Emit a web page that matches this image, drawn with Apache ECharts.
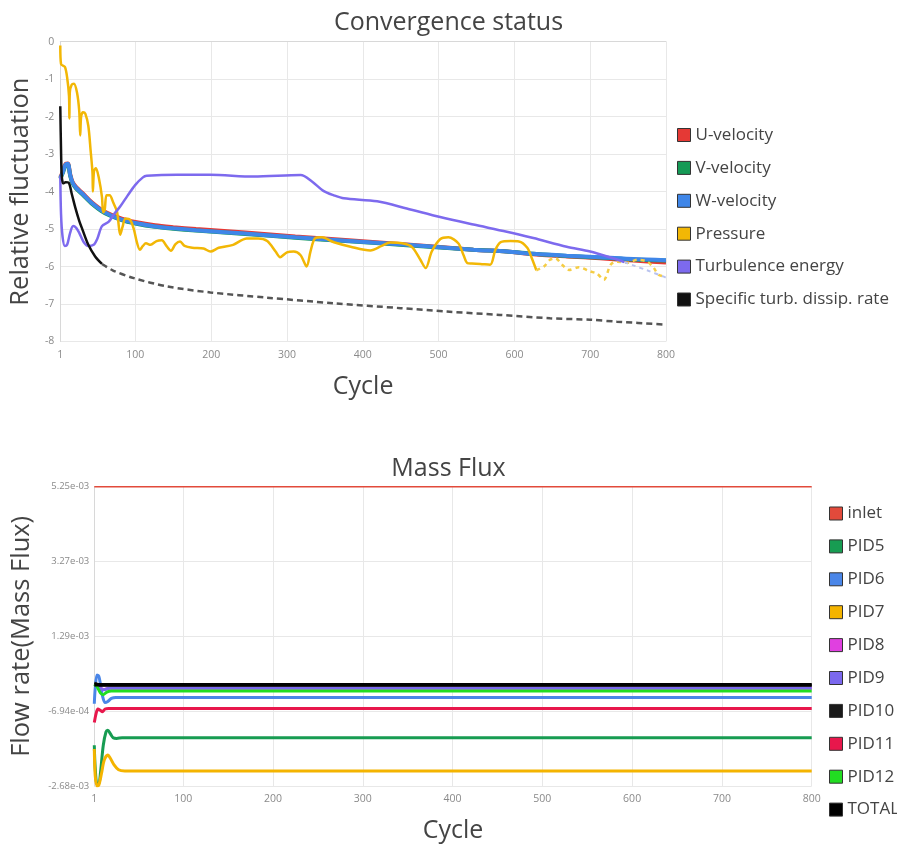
<!DOCTYPE html>
<html>
<head>
<meta charset="utf-8">
<script src="https://cdn.jsdelivr.net/npm/echarts@6/dist/echarts.min.js"></script>
<style>
html,body{margin:0;padding:0;background:#fff;}
#main{width:897px;height:847px;}
</style>
</head>
<body>
<div id="main"></div>
<script>
// ---------- Convergence status ----------
const convXTicks = [1, 100, 200, 300, 400, 500, 600, 700, 800];
const convYTicks = [0, -1, -2, -3, -4, -5, -6, -7, -8];

const velCycles = [1, 4, 8, 11, 14, 17, 22, 30, 43, 60, 82, 100, 126, 150, 180, 245, 311, 377, 458, 546, 590, 625, 669, 713, 757, 800];
const uVelocity = [-3.62, -3.48, -3.26, -3.25, -3.53, -3.73, -3.88, -4.03, -4.29, -4.54, -4.72, -4.81, -4.9, -4.95, -5.0, -5.09, -5.2, -5.29, -5.41, -5.55, -5.6, -5.67, -5.73, -5.78, -5.84, -5.89];
const vVelocity = [-3.66, -3.52, -3.3, -3.28, -3.57, -3.77, -3.92, -4.07, -4.33, -4.58, -4.76, -4.85, -4.94, -4.99, -5.04, -5.13, -5.23, -5.32, -5.43, -5.55, -5.6, -5.66, -5.72, -5.76, -5.81, -5.84];
const wVelocity = [-3.64, -3.5, -3.28, -3.26, -3.55, -3.75, -3.9, -4.05, -4.31, -4.56, -4.75, -4.84, -4.93, -4.98, -5.03, -5.12, -5.22, -5.31, -5.42, -5.55, -5.6, -5.66, -5.71, -5.75, -5.8, -5.83];

const pressureCycles = [1, 2, 7, 10, 12.5, 13, 13.6, 16, 19, 23, 26, 27.3, 28.5, 31, 34, 38, 41, 43.5, 44, 45.5, 48, 52, 56, 57.5, 59.5, 62, 66, 71, 76, 80, 83, 87, 93, 98, 102, 106, 110, 114, 120, 128, 135, 141, 147, 153, 159, 165, 175, 190, 199, 210, 229, 247, 262, 274, 285, 291, 300, 309, 318, 326, 331, 337, 346, 362, 384, 410, 425, 436, 452, 465, 476, 483, 491, 502, 513, 526, 533, 538, 544, 555, 568, 575, 582, 595, 606, 617, 623, 629];
const pressure = [-0.1, -0.6, -0.67, -0.95, -1.45, -2.05, -1.35, -1.15, -1.12, -1.35, -1.85, -2.5, -2.0, -1.88, -1.92, -2.25, -2.9, -3.5, -4.0, -3.45, -3.38, -3.65, -4.15, -4.55, -4.5, -4.1, -4.1, -4.3, -4.55, -5.15, -4.95, -4.72, -4.75, -5.0, -5.35, -5.55, -5.45, -5.38, -5.42, -5.32, -5.3, -5.45, -5.58, -5.4, -5.33, -5.45, -5.5, -5.52, -5.6, -5.5, -5.42, -5.25, -5.25, -5.32, -5.6, -5.75, -5.62, -5.6, -5.7, -6.0, -5.6, -5.25, -5.22, -5.35, -5.47, -5.57, -5.45, -5.36, -5.38, -5.48, -5.82, -6.04, -5.6, -5.27, -5.22, -5.38, -5.7, -5.91, -5.92, -5.93, -5.95, -5.55, -5.35, -5.32, -5.33, -5.5, -5.78, -6.1];
const pressureTailCycles = [629, 639, 647, 654, 663, 672, 685, 700, 709, 718, 727, 735, 749, 762, 775, 784, 790, 800];
const pressureTail = [-6.1, -6.0, -5.82, -5.78, -5.95, -6.09, -6.02, -6.13, -6.19, -6.35, -5.95, -5.87, -5.9, -5.82, -5.87, -6.04, -6.22, -6.27];

const turbCycles = [1, 2, 4, 7, 10, 14, 18, 22, 26, 32, 38, 45, 50, 56, 65, 72, 80, 90, 100, 110, 115, 155, 199, 256, 318, 333, 348, 362, 375, 419, 458, 502, 546, 590, 625, 669, 700, 727, 745];
const turbulence = [-3.6, -4.6, -5.2, -5.45, -5.42, -5.1, -4.92, -4.97, -5.1, -5.35, -5.45, -5.42, -5.25, -4.92, -4.8, -4.6, -4.4, -4.1, -3.82, -3.62, -3.58, -3.55, -3.55, -3.6, -3.56, -3.73, -3.98, -4.1, -4.18, -4.26, -4.45, -4.68, -4.88, -5.07, -5.24, -5.47, -5.6, -5.76, -5.88];
const turbTailCycles = [745, 757, 775, 797, 800];
const turbulenceTail = [-5.88, -5.97, -6.1, -6.27, -6.3];

const sdrCycles = [1, 2, 3, 5, 8, 12, 16, 21, 26, 30, 38, 47, 56];
const specDissip = [-1.72, -2.9, -3.6, -3.78, -3.75, -3.76, -4.05, -4.44, -4.78, -5.0, -5.42, -5.73, -5.93];
const sdrTailCycles = [56, 70, 98, 142, 199, 274, 362, 450, 511, 581, 647, 700, 735, 800];
const specDissipTail = [-5.93, -6.1, -6.31, -6.53, -6.69, -6.83, -6.98, -7.11, -7.2, -7.29, -7.38, -7.42, -7.47, -7.55];

// ---------- Mass Flux ----------
const fluxXTicks = [1, 100, 200, 300, 400, 500, 600, 700, 800];
const fluxYTicks = [-2.68e-3, -6.94e-4, 1.29e-3, 3.27e-3, 5.25e-3];

const inletCycles = [1, 800];
const inlet = [5.25e-3, 5.25e-3];
const pid5Cycles = [1, 2, 4, 6, 8, 11, 14, 16, 19, 22, 26, 32, 800];
const pid5 = [-1.6e-3, -2.2e-3, -2.62e-3, -2.62e-3, -2.3e-3, -1.6e-3, -1.25e-3, -1.2e-3, -1.3e-3, -1.4e-3, -1.42e-3, -1.40e-3, -1.40e-3];
const pid6Cycles = [1, 2, 4, 6, 8, 10, 13, 16, 20, 25, 800];
const pid6 = [-5.0e-4, -1.0e-4, 2.6e-4, 2.3e-4, 0, -2.8e-4, -4.7e-4, -4.4e-4, -3.6e-4, -3.35e-4, -3.35e-4];
const pid7Cycles = [1, 2, 4, 6, 9, 12, 16, 19, 23, 28, 35, 800];
const pid7 = [-1.7e-3, -2.4e-3, -2.68e-3, -2.66e-3, -2.35e-3, -2.0e-3, -1.86e-3, -1.95e-3, -2.12e-3, -2.25e-3, -2.28e-3, -2.28e-3];
const pid8Cycles = [1, 4, 8, 12, 18, 800];
const pid8 = [0, -2e-5, -1.0e-4, -1.2e-4, -8.8e-5, -8.8e-5];
const pid9Cycles = [1, 4, 8, 12, 18, 800];
const pid9 = [0, -2e-5, -1.1e-4, -1.3e-4, -8.2e-5, -8.2e-5];
const pid10Cycles = [1, 3, 6, 10, 800];
const pid10 = [4e-5, 3e-5, -1e-5, -1e-5, -1e-5];
const pid11Cycles = [1, 3, 5, 8, 10, 13, 17, 800];
const pid11 = [-1.0e-3, -7.6e-4, -6.4e-4, -6.8e-4, -7.1e-4, -6.4e-4, -6.26e-4, -6.26e-4];
const pid12Cycles = [1, 4, 8, 11, 15, 20, 800];
const pid12 = [2e-5, -5e-5, -2.2e-4, -2.6e-4, -1.9e-4, -1.61e-4, -1.61e-4];
const totalCycles = [1, 800];
const total = [0, 0];

const convNames = ['U-velocity', 'V-velocity', 'W-velocity', 'Pressure', 'Turbulence energy', 'Specific turb. dissip. rate'];
const fluxNames = ['inlet', 'PID5', 'PID6', 'PID7', 'PID8', 'PID9', 'PID10', 'PID11', 'PID12', 'TOTAL'];

function pairs(xs, ys) { return xs.map((x, i) => [x, ys[i]]); }
function expFmt(v) {
  return v.toExponential(2).replace(/e([+-])(\d)$/, 'e$10$2');
}

const FONT = 'Open Sans';
const chart = echarts.init(document.getElementById('main'), null, { renderer: 'canvas' });

function line(name, xs, ys, color, width, gi, extra) {
  return Object.assign({
    type: 'line', name: name, xAxisIndex: gi, yAxisIndex: gi,
    data: pairs(xs, ys), showSymbol: false, symbol: 'none',
    smooth: 0.3, color: color,
    lineStyle: { width: width, color: color },
    emphasis: { disabled: true }
  }, extra || {});
}

const axisLabelStyle = { color: '#8a8a8a', fontSize: 10.5, fontFamily: FONT };
const gridLine = { show: true, lineStyle: { color: '#e8e8e8', width: 1 } };
const axisLine = { show: true, lineStyle: { color: '#d8d8d8', width: 1 } };
const legendText = { fontSize: 17, color: '#444', fontFamily: FONT };

const option = {
  animation: false,
  backgroundColor: '#fff',
  textStyle: { fontFamily: FONT },
  title: [
    { text: 'Convergence status', left: 'center', top: 5,
      textStyle: { fontSize: 25, fontWeight: 'normal', color: '#444', fontFamily: FONT } },
    { text: 'Mass Flux', left: 'center', top: 451,
      textStyle: { fontSize: 25, fontWeight: 'normal', color: '#444', fontFamily: FONT } }
  ],
  legend: [
    { data: convNames, orient: 'vertical', left: 672, top: 121.5, itemWidth: 13, itemHeight: 13, itemGap: 15.9,
      icon: 'rect', itemStyle: { borderColor: '#333', borderWidth: 1 },
      textStyle: legendText },
    { data: fluxNames, orient: 'vertical', left: 824, top: 500, itemWidth: 13, itemHeight: 13, itemGap: 15.9,
      icon: 'rect', itemStyle: { borderColor: '#333', borderWidth: 1 },
      textStyle: legendText }
  ],
  grid: [
    { left: 60, right: 231, top: 41.7, height: 299.8, containLabel: false },
    { left: 94.3, right: 85.3, top: 486.7, height: 99.3 * 3 + 1.4, containLabel: false }
  ],
  xAxis: [
    { type: 'value', gridIndex: 0, min: 1, max: 800,
      name: 'Cycle', nameLocation: 'middle', nameGap: 33,
      nameTextStyle: { fontSize: 25, color: '#444', fontFamily: FONT },
      axisLine: axisLine, axisTick: { show: false, customValues: convXTicks },
      axisLabel: Object.assign({ customValues: convXTicks, margin: 8 }, axisLabelStyle),
      splitLine: gridLine },
    { type: 'value', gridIndex: 1, min: 1, max: 800,
      name: 'Cycle', nameLocation: 'middle', nameGap: 32,
      nameTextStyle: { fontSize: 25, color: '#444', fontFamily: FONT },
      axisLine: axisLine, axisTick: { show: false, customValues: fluxXTicks },
      axisLabel: Object.assign({ customValues: fluxXTicks, margin: 8 }, axisLabelStyle),
      splitLine: gridLine }
  ],
  yAxis: [
    { type: 'value', gridIndex: 0, min: -8, max: 0, interval: 1,
      name: 'Relative fluctuation', nameLocation: 'middle', nameGap: 26,
      nameTextStyle: { fontSize: 25.5, color: '#444', fontFamily: FONT },
      axisLine: axisLine, axisTick: { show: false, customValues: convYTicks },
      axisLabel: Object.assign({ customValues: convYTicks, margin: 6 }, axisLabelStyle),
      splitLine: gridLine },
    { type: 'value', gridIndex: 1, min: fluxYTicks[0], max: fluxYTicks[fluxYTicks.length - 1],
      name: 'Flow rate(Mass Flux)', nameLocation: 'middle', nameGap: 60,
      nameTextStyle: { fontSize: 25.5, color: '#444', fontFamily: FONT },
      axisLine: axisLine, axisTick: { show: false, customValues: fluxYTicks },
      axisLabel: Object.assign({ customValues: fluxYTicks, margin: 5, formatter: expFmt }, axisLabelStyle, { fontSize: 9.5 }),
      splitLine: gridLine }
  ],
  series: [
    line('U-velocity', velCycles, uVelocity, '#e53935', 4, 0),
    line('V-velocity', velCycles, vVelocity, '#159a56', 4, 0),
    line('W-velocity', velCycles, wVelocity, '#3f86e8', 4, 0),
    line('Pressure', pressureCycles, pressure, '#f2b705', 2.5, 0),
    line('Pressure', pressureTailCycles, pressureTail, '#f5cd45', 2.5, 0, { lineStyle: { width: 2.5, color: '#f5cd45', type: [4, 4] } }),
    line('Turbulence energy', turbCycles, turbulence, '#7d6aee', 2.5, 0),
    line('Turbulence energy', turbTailCycles, turbulenceTail, '#b9c3ef', 2, 0, { lineStyle: { width: 2, color: '#b9c3ef', type: [4, 4] } }),
    line('Specific turb. dissip. rate', sdrCycles, specDissip, '#111111', 2.5, 0),
    line('Specific turb. dissip. rate', sdrTailCycles, specDissipTail, '#555555', 2.5, 0, { lineStyle: { width: 2.5, color: '#555555', type: [6, 4] } }),

    line('inlet', inletCycles, inlet, '#e24a3b', 1.5, 1),
    line('PID5', pid5Cycles, pid5, '#179c52', 3, 1),
    line('PID6', pid6Cycles, pid6, '#4a86e8', 3, 1),
    line('PID7', pid7Cycles, pid7, '#f4b400', 3, 1),
    line('PID8', pid8Cycles, pid8, '#e040e0', 3, 1),
    line('PID9', pid9Cycles, pid9, '#7b68ee', 3, 1),
    line('PID10', pid10Cycles, pid10, '#1a1a1a', 3, 1),
    line('PID11', pid11Cycles, pid11, '#e8174c', 3, 1),
    line('PID12', pid12Cycles, pid12, '#22dd22', 3, 1),
    line('TOTAL', totalCycles, total, '#000000', 3.5, 1)
  ]
};
chart.setOption(option);
</script>
</body>
</html>
